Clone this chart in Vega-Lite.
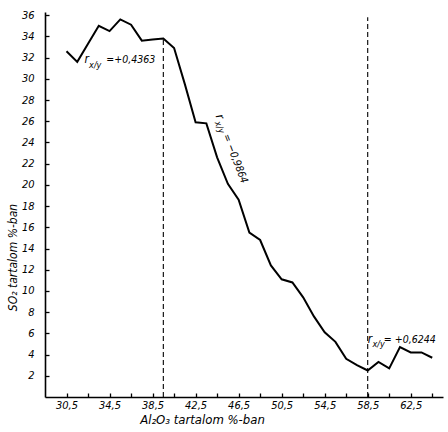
{
  "$schema": "https://vega.github.io/schema/vega-lite/v6.json",
  "width": 398,
  "height": 385,
  "autosize": {"type": "none"},
  "padding": {"left": 45, "top": 12, "right": 5, "bottom": 35},
  "background": "white",
  "config": {
    "view": {"stroke": null},
    "font": "DejaVu Sans Condensed",
    "axis": {
      "grid": false,
      "domainColor": "black",
      "domainWidth": 1.6,
      "tickColor": "black",
      "tickWidth": 1.3,
      "labelColor": "black",
      "labelFont": "DejaVu Sans Condensed",
      "labelFontStyle": "italic",
      "labelFontSize": 11,
      "titleColor": "black",
      "titleFont": "DejaVu Sans Condensed",
      "titleFontStyle": "italic",
      "titleFontWeight": "normal",
      "titleFontSize": 12
    }
  },
  "datasets": {
    "curve": [
      {"al": 30.5, "so": 32.6}, {"al": 31.5, "so": 31.6}, {"al": 32.5, "so": 33.3},
      {"al": 33.5, "so": 35.0}, {"al": 34.5, "so": 34.5}, {"al": 35.5, "so": 35.6},
      {"al": 36.5, "so": 35.1}, {"al": 37.5, "so": 33.6}, {"al": 38.5, "so": 33.7},
      {"al": 39.5, "so": 33.8}, {"al": 40.5, "so": 32.9}, {"al": 41.5, "so": 29.5},
      {"al": 42.5, "so": 25.9}, {"al": 43.5, "so": 25.8}, {"al": 44.5, "so": 22.6},
      {"al": 45.5, "so": 20.1}, {"al": 46.5, "so": 18.6}, {"al": 47.5, "so": 15.5},
      {"al": 48.5, "so": 14.8}, {"al": 49.5, "so": 12.4}, {"al": 50.5, "so": 11.1},
      {"al": 51.5, "so": 10.8}, {"al": 52.5, "so": 9.4}, {"al": 53.5, "so": 7.6},
      {"al": 54.5, "so": 6.1}, {"al": 55.5, "so": 5.2}, {"al": 56.5, "so": 3.6},
      {"al": 57.5, "so": 3.0}, {"al": 58.5, "so": 2.5}, {"al": 59.5, "so": 3.3},
      {"al": 60.5, "so": 2.7}, {"al": 61.5, "so": 4.7}, {"al": 62.5, "so": 4.2},
      {"al": 63.5, "so": 4.2}, {"al": 64.5, "so": 3.7}
    ],
    "dashes": [
      {"al": 39.5, "lo": 0, "hi": 33.8},
      {"al": 58.5, "lo": 0, "hi": 35.8}
    ],
    "annR": [
      {"t": "r", "al": 32.17, "so": 31.5},
      {"t": "r", "al": 58.5, "so": 5.1}
    ],
    "annSub": [
      {"t": "x/y", "al": 32.6, "so": 31.0},
      {"t": "x/y", "al": 58.95, "so": 4.75}
    ],
    "annVal": [
      {"t": "=+0,4363", "al": 34.2, "so": 31.5},
      {"t": "= +0,6244", "al": 60.0, "so": 5.1}
    ],
    "annRot": [
      {"r": "r", "sub": "x/y", "val": "= −0,9864", "al": 44.35, "so": 26.5}
    ]
  },
  "encoding": {
    "x": {
      "field": "al", "type": "quantitative",
      "scale": {"domain": [28.5, 65.5], "nice": false, "zero": false},
      "axis": {
        "title": "Al₂O₃ tartalom %-ban",
        "values": [30.5, 32.5, 34.5, 36.5, 38.5, 40.5, 42.5, 44.5, 46.5, 48.5, 50.5, 52.5, 54.5, 56.5, 58.5, 60.5, 62.5, 64.5],
        "labelExpr": "(datum.value - 30.5) % 4 == 0 ? replace(format(datum.value, '.1f'), '.', ',') : ''",
        "tickSize": -4,
        "labelPadding": 6,
        "titleX": 157,
        "titleY": 22,
        "titleFontSize": 13,
        "titleBaseline": "middle"
      }
    },
    "y": {
      "field": "so", "type": "quantitative",
      "scale": {"domain": [0, 36.3], "nice": false, "zero": true},
      "axis": {
        "title": "SO₂ tartalom %-ban",
        "values": [2, 4, 6, 8, 10, 12, 14, 16, 18, 20, 22, 24, 26, 28, 30, 32, 34, 36],
        "format": "d",
        "tickSize": -4,
        "labelPadding": 15,
        "titleX": -33,
        "titleY": 245,
        "titleBaseline": "middle"
      }
    }
  },
  "layer": [
    {
      "data": {"name": "curve"},
      "mark": {"type": "line", "color": "black", "strokeWidth": 2, "strokeJoin": "miter"}
    },
    {
      "data": {"name": "dashes"},
      "mark": {"type": "rule", "color": "black", "strokeWidth": 1.1, "strokeDash": [5, 3]},
      "encoding": {
        "y": {"field": "lo", "type": "quantitative"},
        "y2": {"field": "hi"}
      }
    },
    {
      "data": {"name": "annR"},
      "mark": {"type": "text", "align": "left", "baseline": "alphabetic", "fontSize": 12, "fontStyle": "italic", "color": "black"},
      "encoding": {"text": {"field": "t"}}
    },
    {
      "data": {"name": "annSub"},
      "mark": {"type": "text", "align": "left", "baseline": "alphabetic", "fontSize": 9, "fontStyle": "italic", "color": "black"},
      "encoding": {"text": {"field": "t"}}
    },
    {
      "data": {"name": "annVal"},
      "mark": {"type": "text", "align": "left", "baseline": "alphabetic", "fontSize": 10.5, "fontStyle": "italic", "color": "black"},
      "encoding": {"text": {"field": "t"}}
    },
    {
      "data": {"name": "annRot"},
      "mark": {"type": "text", "align": "left", "baseline": "alphabetic", "fontSize": 12, "fontStyle": "italic", "color": "black", "angle": 69},
      "encoding": {"text": {"field": "r"}}
    },
    {
      "data": {"name": "annRot"},
      "mark": {"type": "text", "align": "left", "baseline": "alphabetic", "fontSize": 9, "fontStyle": "italic", "color": "black", "angle": 69, "dx": 6, "dy": 3},
      "encoding": {"text": {"field": "sub"}}
    },
    {
      "data": {"name": "annRot"},
      "mark": {"type": "text", "align": "left", "baseline": "alphabetic", "fontSize": 10.5, "fontStyle": "italic", "color": "black", "angle": 69, "dx": 21},
      "encoding": {"text": {"field": "val"}}
    }
  ]
}
